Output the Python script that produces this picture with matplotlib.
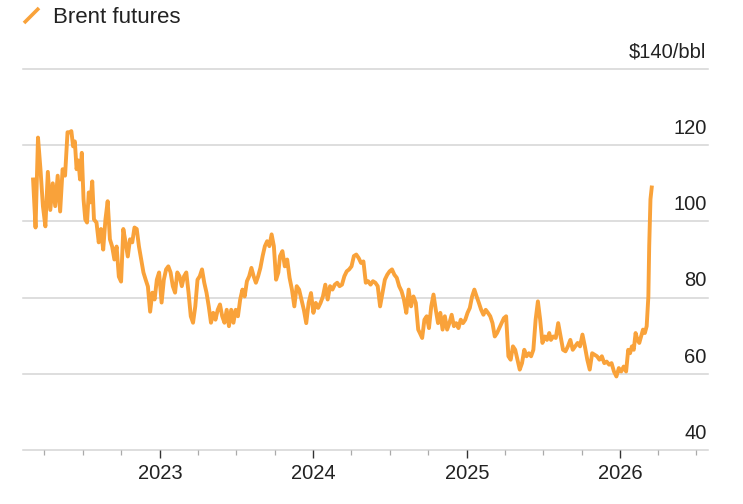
import pandas as pd
import matplotlib.pyplot as plt
import matplotlib.dates as mdates
from matplotlib.lines import Line2D

plt.rcParams['font.family'] = ['Liberation Sans', 'DejaVu Sans']

# Brent futures, $/bbl in segments (start, end, values)
vals_2022a = [111, 98.4, 122, 113.7, 104, 98.7, 113, 103, 110, 104, 112, 102.6, 113.7, 112, 123.4]
vals_2022b = [123.4, 123.7, 119.7, 121, 113.7, 116, 111, 118, 105.8, 100.5, 99.7, 107.6, 105, 110.5, 100.5]
vals_2022c = [99.7, 94.5, 98, 92.6, 100.5, 105.3, 95.3, 93.4, 90, 93.4, 85.5, 84.2, 98, 94.5, 90.8,
              95.3, 94.5, 98.4, 98, 93.4, 90, 86.6, 84.7, 82.9, 76.3, 81.3, 79.5, 84.7, 86.6]
vals_2023a = [78.7, 84.7, 87.4, 88.2, 86.6, 83, 81.3, 86.6, 85.6, 83, 85.6, 86.6, 81.3, 75.1, 73.4,
              77.7, 84.7, 85.6, 87.4, 83.9, 81.3, 77.7, 73.4, 76, 74.2, 76.8, 78.2, 75.1, 73.4, 76.8,
              72.5, 76.8, 73.4, 76.8, 75.1, 79.5, 82.1, 80.3, 84.3, 85.6, 87.8, 85.6, 83.9, 85.6, 87.8,
              90.9, 93.5, 94.8, 93.5, 96.6, 93.5, 84.7, 86.6]
vals_2023b = [90.9, 92.2, 88.2, 90, 85.2, 82.1, 77.7, 83, 82.1, 79.5, 76.8, 73.3, 78.6, 81.2, 76,
              78.6, 77.3, 78.6, 80.3, 83.4, 79.5, 83, 82.1, 83.4, 83.9, 83, 83.4, 85.6, 86.9, 87.4,
              88.2, 90.9, 91.3, 90.4, 89.1, 89.5, 83.9, 84.3, 83.4, 84.3, 83.9, 83, 77.7, 81.2, 84.7,
              86, 86.9, 87.4, 86, 85.2, 83, 81.7, 79.5, 76, 82.1, 77.7, 80.3, 78.6, 71.6]
vals_2024 = [70.7, 69.4, 74.2, 75.1, 72, 77.7, 80.8, 76.8, 73.3, 76, 71.6, 75.1, 71.6, 73.3, 75.5,
             72.5, 73.3, 72, 74.2, 73.3, 74.2, 76, 77.3, 80.3, 82.1, 80.3, 78.6, 76.8, 75.5, 76.8,
             76, 75.1, 73.3, 69.8, 70.7, 72, 73.3, 74.6, 75.1, 64.6, 63.7, 67.2, 66.3, 63.7, 61.1,
             62.8, 66.3, 64.6, 65.4, 64.6, 66.3, 74.2, 79, 74.2, 68.1, 69.8, 68.9, 70.7]
vals_2025 = [68.9, 69.8, 69.4, 73.3, 69.8, 66.3, 65.9, 67.2, 68.9, 66.3, 67.2, 68.1, 67.2, 70.3, 67.2,
             63.7, 61.1, 65.4, 65, 64.6, 63.7, 64.6, 62.8, 63.2, 62.4, 62.8, 60.6, 59.3, 61.5, 60.6,
             61.9, 60.6]
vals_2026 = [66.3, 65.4, 67.2, 66.3, 70.7, 68.9, 68.1, 69.8, 71.6, 70.7, 72.5]
spike_dates = ["2026-03-09", "2026-03-11", "2026-03-14", "2026-03-17"]
spike_vals = [80.3, 93.5, 105.8, 108.9]

segments = [
    ("2022-03-05", "2022-05-26", vals_2022a),
    ("2022-05-31", "2022-07-28", vals_2022b),
    ("2022-08-03", "2022-12-30", vals_2022c),
    ("2023-01-05", "2023-10-10", vals_2023a),
    ("2023-10-14", "2024-09-07", vals_2023b),
    ("2024-09-11", "2025-07-16", vals_2024),
    ("2025-07-20", "2026-01-15", vals_2025),
    ("2026-01-20", "2026-03-05", vals_2026),
]

dates = []
values = []
for start, end, vals in segments:
    dates.extend(pd.date_range(start, end, periods=len(vals)))
    values.extend(vals)
dates.extend(pd.to_datetime(spike_dates))
values.extend(spike_vals)

y_ticks = [40, 60, 80, 100, 120, 140]
y_labels = ["40", "60", "80", "100", "120", r"\$140/bbl"]

orange = "#F9A23A"
grid_col = "#d4d4d4"
text_col = "#222222"

fig = plt.figure(figsize=(7.43, 5.04), dpi=100)
ax = fig.add_axes([23 / 743, 54 / 504, 685 / 743, 381 / 504])

for y in y_ticks:
    ax.axhline(y, color=grid_col, lw=1.1, clip_on=False, zorder=1)

ax.plot(dates, values, color=orange, lw=2.8, solid_joinstyle="round", zorder=3)

ax.set_ylim(40, 140)
ax.set_xlim(pd.Timestamp("2022-02-09"), pd.Timestamp("2026-07-29"))

for s in ax.spines.values():
    s.set_visible(False)

ax.set_yticks([])
for y, lab in zip(y_ticks, y_labels):
    ax.annotate(lab, xy=(1, y), xycoords=("axes fraction", "data"),
                xytext=(-1, 8), textcoords="offset points",
                ha="right", va="baseline", fontsize=14.5, color=text_col)

ax.xaxis.set_major_locator(mdates.YearLocator())
ax.xaxis.set_major_formatter(mdates.DateFormatter("%Y"))
ax.xaxis.set_minor_locator(mdates.MonthLocator(bymonth=[1, 4, 7, 10]))
ax.tick_params(axis="x", which="major", length=6, width=1, color="#333333",
               labelsize=14.5, labelcolor=text_col, pad=4)
ax.tick_params(axis="x", which="minor", length=3.5, width=0.9, color="#aaaaaa")

# legend key
fig.add_artist(Line2D([24 / 743, 39 / 743], [1 - 23 / 504, 1 - 8 / 504],
                      color=orange, lw=2.6, solid_capstyle="butt"))
fig.text(53 / 743, 1 - 22.7 / 504, "Brent futures", fontsize=16,
         color=text_col, va="baseline", ha="left")

fig.savefig("out.png", dpi=100)
